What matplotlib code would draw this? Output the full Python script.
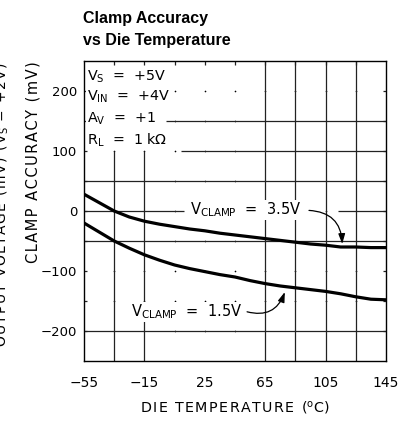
import numpy as np
import matplotlib
matplotlib.use("Agg")
import matplotlib.pyplot as plt

# Data
temp = [-55, -45, -35, -25, -15, -5, 5, 15, 25, 35, 45, 55, 65, 75, 85, 95, 105, 115, 125, 135, 145]
clamp_35 = [28, 14, 0, -10, -17, -22, -26, -30, -33, -37, -40, -43, -46, -49, -52, -55, -57, -60, -60, -61, -61]
clamp_15 = [-20, -35, -50, -62, -73, -82, -90, -96, -101, -106, -110, -116, -121, -125, -128, -131, -134, -138, -143, -147, -148]

x_ticks = [-55, -15, 25, 65, 105, 145]
y_ticks = [-200, -100, 0, 100, 200]
conditions = [r"V$_\mathregular{S}$  =  +5V", r"V$_\mathregular{IN}$  =  +4V",
              r"A$_\mathregular{V}$  =  +1", r"R$_\mathregular{L}$  =  1 k$\Omega$"]

plt.rcParams["font.family"] = ["DejaVu Sans"]
plt.rcParams["mathtext.default"] = "regular"


def spaced(s):
    # the scanned lettering is spread wider than DejaVu, add hair spaces
    return "\u200a".join(s)


fig = plt.figure(figsize=(4.11, 4.25), dpi=100)
ax = fig.add_axes([84 / 411, 1 - 361 / 425, 302 / 411, 300 / 425])
ax.set_xlim(-55, 145)
ax.set_ylim(-250, 250)

# grid: the scan only kept some of the lines, the rest are dots at the crossings
gx = np.arange(-35, 145, 20)
gy = np.arange(-200, 250, 50)
GX, GY = np.meshgrid(gx, gy)
ax.plot(GX.ravel(), GY.ravel(), "o", color="k", ms=1.2, mew=0, zorder=1)
kw = dict(color="#222222", lw=0.9, zorder=1)
for x in [65, 85, 105, 125]:
    ax.vlines(x, -250, 250, **kw)
for x in [-35, -15]:
    ax.vlines(x, -250, 100, **kw)
for x in gx:
    ax.vlines(x, 244, 250, **kw)
for y in [50, -50, -200]:
    ax.hlines(y, -55, 145, **kw)
ax.hlines(150, -1, 145, **kw)
ax.hlines(100, 9, 145, **kw)
ax.hlines(0, -55, 11, **kw)
ax.hlines(0, 113, 145, **kw)
for y in gy:
    ax.hlines(y, -55, -53, **kw)
    ax.hlines(y, 143, 145, **kw)

ax.plot(temp, clamp_35, color="k", lw=2.3, solid_capstyle="butt", zorder=3)
ax.plot(temp, clamp_15, color="k", lw=2.3, solid_capstyle="butt", zorder=3)

for spine in ax.spines.values():
    spine.set_linewidth(1.0)

ax.set_xticks(x_ticks)
ax.set_xticklabels([str(t).replace("-", "\u2212") for t in x_ticks])
ax.set_yticks(y_ticks)
ax.set_yticklabels([str(t).replace("-", "\u2212") for t in y_ticks])
ax.tick_params(axis="x", length=0, pad=11, labelsize=10)
ax.tick_params(axis="y", length=0, pad=5, labelsize=9.5)

box = dict(facecolor="white", edgecolor="none", pad=0.5)

# test conditions
for txt, y in zip(conditions, [223, 190, 153, 117]):
    ax.text(-53, y, txt, fontsize=10.3, ha="left", va="center", zorder=4, bbox=box)

# curve labels with curved arrows
ax.text(52, 2, r"V$_\mathregular{CLAMP}$  =  3.5V", fontsize=10.5, ha="center", va="center",
        zorder=4, bbox=box)
ax.annotate("", xy=(116, -55), xytext=(94, 1),
            arrowprops=dict(arrowstyle="-|>,head_length=0.6,head_width=0.2", lw=0.9, color="k",
                            connectionstyle="arc3,rad=-0.45", shrinkA=0, shrinkB=0), zorder=4)
ax.text(13, -168, r"V$_\mathregular{CLAMP}$  =  1.5V", fontsize=10.5, ha="center", va="center",
        zorder=4, bbox=box)
ax.annotate("", xy=(78, -135), xytext=(53, -168),
            arrowprops=dict(arrowstyle="-|>,head_length=0.6,head_width=0.2", lw=0.9, color="k",
                            connectionstyle="arc3,rad=0.45", shrinkA=0, shrinkB=0), zorder=4)

ax.set_xlabel(spaced("DIE TEMPERATURE (") + "$^\\mathregular{o}$C)", fontsize=10.3, labelpad=6)
fig.text(33 / 411, 1 - 162 / 425, spaced("CLAMP ACCURACY (mV)"), rotation=90, fontsize=10.5,
         ha="center", va="center")
# neighbouring chart's label, cut off by the crop
fig.text(11 / 411, 1 - 205 / 425,
         spaced("OUTPUT VOLTAGE (mV) (V") + r"$_\mathregular{S}$" + spaced(" = +2V)"),
         rotation=90, fontsize=10, ha="right", va="center")

fig.text(83 / 411, 1 - 18 / 425, "Clamp Accuracy", fontsize=11.5, fontweight="bold",
         family=["Liberation Sans Narrow", "Liberation Sans"], ha="left", va="center")
fig.text(83 / 411, 1 - 40 / 425, "vs Die Temperature", fontsize=11.5, fontweight="bold",
         family=["Liberation Sans Narrow", "Liberation Sans"], ha="left", va="center")

fig.savefig("out.png", dpi=100)
